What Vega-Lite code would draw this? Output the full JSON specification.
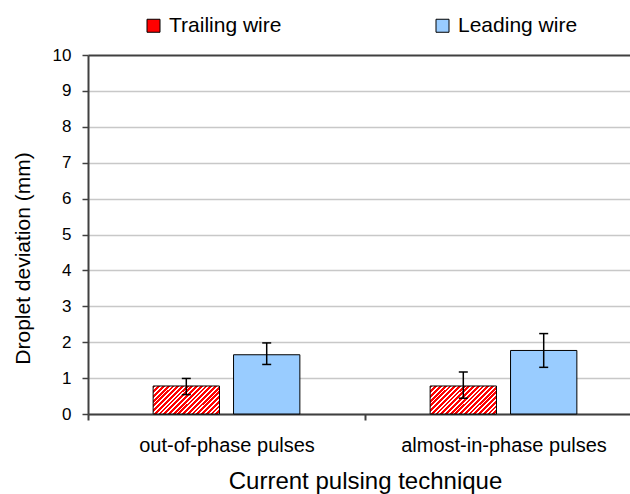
{
  "$schema": "https://vega.github.io/schema/vega-lite/v6.json",
  "width": 542,
  "height": 359,
  "autosize": "none",
  "padding": {"left": 88, "top": 55, "right": 0, "bottom": 80},
  "background": "white",
  "config": {
    "font": "Liberation Sans",
    "view": {"stroke": null}
  },
  "data": {
    "values": [
      {"technique": "out-of-phase pulses", "wire": "Trailing wire", "value": 0.78, "lo": 0.54, "hi": 0.99},
      {"technique": "out-of-phase pulses", "wire": "Leading wire", "value": 1.65, "lo": 1.38, "hi": 1.98},
      {"technique": "almost-in-phase pulses", "wire": "Trailing wire", "value": 0.78, "lo": 0.44, "hi": 1.17},
      {"technique": "almost-in-phase pulses", "wire": "Leading wire", "value": 1.77, "lo": 1.30, "hi": 2.24}
    ]
  },
  "resolve": {"axis": {"y": "independent"}},
  "encoding": {
    "x": {
      "field": "technique",
      "type": "nominal",
      "sort": ["out-of-phase pulses", "almost-in-phase pulses"],
      "scale": {"range": [0, 554], "paddingInner": 0, "paddingOuter": 0},
      "axis": {
        "title": "Current pulsing technique",
        "labelAngle": 0,
        "labelFontSize": 20,
        "labelColor": "#000000",
        "labelPadding": 15,
        "labelLimit": 400,
        "tickBand": "extent",
        "ticks": true,
        "tickSize": 6,
        "tickColor": "#404040",
        "tickWidth": 2,
        "domainColor": "#404040",
        "domainWidth": 2,
        "grid": false,
        "titleFontSize": 24,
        "titleFontWeight": "normal",
        "titleColor": "#000000",
        "titlePadding": 14
      }
    },
    "xOffset": {
      "field": "wire",
      "type": "nominal",
      "sort": ["Trailing wire", "Leading wire"],
      "scale": {"paddingInner": 0.175, "paddingOuter": 0.81}
    }
  },
  "layer": [
    {
      "mark": {"type": "bar", "stroke": "#000000", "strokeWidth": 1},
      "encoding": {
        "y": {
          "field": "value",
          "type": "quantitative",
          "title": "Droplet deviation (mm)",
          "scale": {"domain": [0, 10], "nice": false},
          "axis": {
            "values": [0, 1, 2, 3, 4, 5, 6, 7, 8, 9, 10],
            "labelFontSize": 17,
            "labelColor": "#000000",
            "labelPadding": 11,
            "tickSize": 6,
            "tickColor": "#404040",
            "tickWidth": 1.5,
            "domainColor": "#404040",
            "domainWidth": 2,
            "grid": true,
            "gridColor": {"condition": {"test": "datum.value === 10", "value": "#404040"}, "value": "#c8c8c8"},
            "gridWidth": {"condition": {"test": "datum.value === 10", "value": 2}, "value": 1.5},
            "titleFontSize": 21,
            "titleFontWeight": "normal",
            "titleColor": "#000000",
            "titlePadding": 19,
            "titleY": 203
          }
        },
        "fill": {
          "field": "wire",
          "type": "nominal",
          "sort": ["Trailing wire", "Leading wire"],
          "scale": {"domain": ["Trailing wire", "Leading wire"], "range": ["#ff0000", "#99ccff"]},
          "condition": {
            "test": "datum.wire === 'Trailing wire'",
            "value": {
              "gradient": "linear",
              "x1": 0, "y1": 0, "x2": 1.207, "y2": 0.512,
              "stops": [
                {"offset": 0, "color": "#ff0000"}, {"offset": 0.03, "color": "#ff0000"}, {"offset": 0.03, "color": "#ffffff"}, {"offset": 0.05, "color": "#ffffff"},
                {"offset": 0.05, "color": "#ff0000"}, {"offset": 0.08, "color": "#ff0000"}, {"offset": 0.08, "color": "#ffffff"}, {"offset": 0.1, "color": "#ffffff"},
                {"offset": 0.1, "color": "#ff0000"}, {"offset": 0.13, "color": "#ff0000"}, {"offset": 0.13, "color": "#ffffff"}, {"offset": 0.15, "color": "#ffffff"},
                {"offset": 0.15, "color": "#ff0000"}, {"offset": 0.18, "color": "#ff0000"}, {"offset": 0.18, "color": "#ffffff"}, {"offset": 0.2, "color": "#ffffff"},
                {"offset": 0.2, "color": "#ff0000"}, {"offset": 0.23, "color": "#ff0000"}, {"offset": 0.23, "color": "#ffffff"}, {"offset": 0.25, "color": "#ffffff"},
                {"offset": 0.25, "color": "#ff0000"}, {"offset": 0.28, "color": "#ff0000"}, {"offset": 0.28, "color": "#ffffff"}, {"offset": 0.3, "color": "#ffffff"},
                {"offset": 0.3, "color": "#ff0000"}, {"offset": 0.33, "color": "#ff0000"}, {"offset": 0.33, "color": "#ffffff"}, {"offset": 0.35, "color": "#ffffff"},
                {"offset": 0.35, "color": "#ff0000"}, {"offset": 0.38, "color": "#ff0000"}, {"offset": 0.38, "color": "#ffffff"}, {"offset": 0.4, "color": "#ffffff"},
                {"offset": 0.4, "color": "#ff0000"}, {"offset": 0.43, "color": "#ff0000"}, {"offset": 0.43, "color": "#ffffff"}, {"offset": 0.45, "color": "#ffffff"},
                {"offset": 0.45, "color": "#ff0000"}, {"offset": 0.48, "color": "#ff0000"}, {"offset": 0.48, "color": "#ffffff"}, {"offset": 0.5, "color": "#ffffff"},
                {"offset": 0.5, "color": "#ff0000"}, {"offset": 0.53, "color": "#ff0000"}, {"offset": 0.53, "color": "#ffffff"}, {"offset": 0.55, "color": "#ffffff"},
                {"offset": 0.55, "color": "#ff0000"}, {"offset": 0.58, "color": "#ff0000"}, {"offset": 0.58, "color": "#ffffff"}, {"offset": 0.6, "color": "#ffffff"},
                {"offset": 0.6, "color": "#ff0000"}, {"offset": 0.63, "color": "#ff0000"}, {"offset": 0.63, "color": "#ffffff"}, {"offset": 0.65, "color": "#ffffff"},
                {"offset": 0.65, "color": "#ff0000"}, {"offset": 0.68, "color": "#ff0000"}, {"offset": 0.68, "color": "#ffffff"}, {"offset": 0.7, "color": "#ffffff"},
                {"offset": 0.7, "color": "#ff0000"}, {"offset": 0.73, "color": "#ff0000"}, {"offset": 0.73, "color": "#ffffff"}, {"offset": 0.75, "color": "#ffffff"},
                {"offset": 0.75, "color": "#ff0000"}, {"offset": 0.78, "color": "#ff0000"}, {"offset": 0.78, "color": "#ffffff"}, {"offset": 0.8, "color": "#ffffff"},
                {"offset": 0.8, "color": "#ff0000"}, {"offset": 0.83, "color": "#ff0000"}, {"offset": 0.83, "color": "#ffffff"}, {"offset": 0.85, "color": "#ffffff"},
                {"offset": 0.85, "color": "#ff0000"}, {"offset": 0.88, "color": "#ff0000"}, {"offset": 0.88, "color": "#ffffff"}, {"offset": 0.9, "color": "#ffffff"},
                {"offset": 0.9, "color": "#ff0000"}, {"offset": 0.93, "color": "#ff0000"}, {"offset": 0.93, "color": "#ffffff"}, {"offset": 0.95, "color": "#ffffff"},
                {"offset": 0.95, "color": "#ff0000"}, {"offset": 0.98, "color": "#ff0000"}, {"offset": 0.98, "color": "#ffffff"}, {"offset": 1, "color": "#ffffff"}
              ]
            }
          },
          "legend": {
            "title": null,
            "orient": "none",
            "direction": "horizontal",
            "legendX": 55,
            "legendY": -40,
            "columnPadding": 150,
            "symbolType": "square",
            "symbolSize": 169,
            "symbolStrokeColor": "#000000",
            "symbolStrokeWidth": 1,
            "symbolOpacity": 1,
            "labelFontSize": 21,
            "labelColor": "#000000",
            "labelOffset": 5
          }
        }
      }
    },
    {
      "mark": {"type": "rule", "color": "#000000", "strokeWidth": 1.5},
      "encoding": {
        "y": {"field": "lo", "type": "quantitative", "axis": null},
        "y2": {"field": "hi"}
      }
    },
    {
      "mark": {"type": "tick", "orient": "horizontal", "color": "#000000", "size": 9, "thickness": 1.5, "opacity": 1},
      "encoding": {
        "y": {"field": "lo", "type": "quantitative", "axis": null}
      }
    },
    {
      "mark": {"type": "tick", "orient": "horizontal", "color": "#000000", "size": 9, "thickness": 1.5, "opacity": 1},
      "encoding": {
        "y": {"field": "hi", "type": "quantitative", "axis": null}
      }
    }
  ]
}
